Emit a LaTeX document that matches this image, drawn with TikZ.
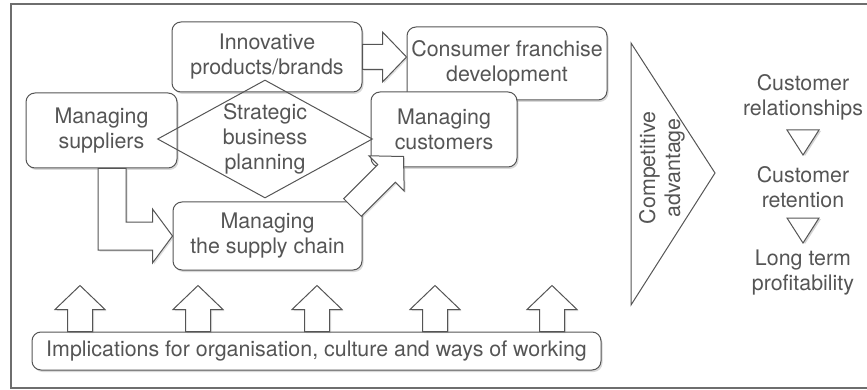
\documentclass[tikz,border=0pt]{standalone}
\usepackage{fontspec}
\setmainfont{TeX Gyre Heros}
\usetikzlibrary{calc, shapes.geometric, shadows}
\definecolor{linegray}{RGB}{85, 85, 85}
\definecolor{textgray}{RGB}{85, 85, 85}
\definecolor{framegray}{RGB}{110, 110, 110}
% block arrow from #1 (base) to #2 (tip)
\newcommand{\blockarrow}[2]{%
  \coordinate (ba-h) at ($#2!24pt!#1$);
  \draw[arrowbox] ($#1!12.5pt!90:#2$) -- ($(ba-h)!12.5pt!90:#2$) -- ($(ba-h)!25pt!90:#2$) -- #2
    -- ($(ba-h)!25pt!-90:#2$) -- ($(ba-h)!12.5pt!-90:#2$) -- ($#1!12.5pt!-90:#2$) -- cycle;}

\begin{document}
\begin{tikzpicture}[x=1pt, y=-1pt, font=\fontsize{21.4}{25}\selectfont,
    roundbox/.style={draw=linegray, line width=1pt, fill=white, rounded corners=9pt, align=center,
      text=textgray, inner sep=0pt, drop shadow={shadow xshift=1.5pt, shadow yshift=-2pt, opacity=0.3}},
    arrowbox/.style={draw=linegray, line width=1pt, fill=white, line join=miter,
      drop shadow={shadow xshift=1.5pt, shadow yshift=-1.5pt, opacity=0.25}},
    smalltri/.style={draw=linegray, line width=1pt, fill=white,
      drop shadow={shadow xshift=2pt, shadow yshift=-1pt, opacity=0.35}},
    sidetext/.style={align=center, text=textgray, inner sep=0pt}]
    % Frame
    \useasboundingbox (0,0) rectangle (867,390);
    \draw[framegray, line width=1.4pt] (867,4) -- (11,4) -- (11,388) -- (867,388);

    % Boxes
    \node[roundbox, minimum width=190pt, minimum height=70pt] (inno) at (267,57) {Innovative\\products/brands};
    \node[roundbox, minimum width=200pt, minimum height=73pt] (cfd) at (507,63.5) {Consumer franchise\\development};
    \node[roundbox, minimum width=146pt, minimum height=75pt] (cust) at (444,129.5) {Managing\\customers};
    \node[roundbox, minimum width=151pt, minimum height=75pt] (sup) at (101.5,130.5) {Managing\\suppliers};
    \node[roundbox, minimum width=189pt, minimum height=68pt] (chain) at (267.5,236) {Managing\\the supply chain};
    \node[roundbox, minimum width=569pt, minimum height=38pt] (impl) at (316.5,351) {Implications for organisation, culture and ways of working};

    % Block arrows
    \coordinate (cfdin) at (inno.east -| cfd.west);
    \blockarrow{(inno.east)}{(cfdin)}
    \draw[arrowbox] ($(sup.south)+(-3.5,0)$) |- ($(chain.west)+(-20,14)$) -- ++(0,13) -- (chain.west)
        -- ++(-20,-27) -- ++(0,13) -| ($(sup.south)+(24.5,0)$) -- cycle;
    \coordinate (diagstart) at ($(chain.north east)+(-10,6)$);
    \coordinate (diagtip) at ($(cust.south west)+(33,-11)$);
    \blockarrow{(diagstart)}{(diagtip)}
    \foreach \x in {80,198,317,435,552} {
        \coordinate (up-base) at (\x,0 |- impl.north);
        \coordinate (up-tip) at ($(up-base)+(0,-46)$);
        \blockarrow{(up-base)}{(up-tip)}
    }

    % Strategic planning
    \node[diamond, draw=linegray, line width=1pt, shape aspect=1.82, minimum width=215pt, minimum height=118pt,
        inner sep=0pt, align=center, text=textgray] (sbp) at (265,139) {Strategic\\business\\planning};

    % Competitive advantage
    \draw[linegray, line width=1pt, fill=white] (631,43) -- (715,173) -- (631,305) -- cycle;
    \node[sidetext, rotate=90] (adv) at (662,168) {Competitive\\advantage};

    % Outcomes
    \node[sidetext] (rel) at (803,97) {Customer\\relationships};
    \node[sidetext] (ret) at (803,187) {Customer\\retention};
    \node[sidetext] (prof) at (803,273) {Long term\\profitability};
    \draw[smalltri] ($(rel)!0.5!(ret)+(-16,-12)$) -- ++(32,0) -- ++(-16,25) -- cycle;
    \draw[smalltri] ($(ret)!0.5!(prof)+(-16,-12)$) -- ++(32,0) -- ++(-16,25) -- cycle;
\end{tikzpicture}
\end{document}
